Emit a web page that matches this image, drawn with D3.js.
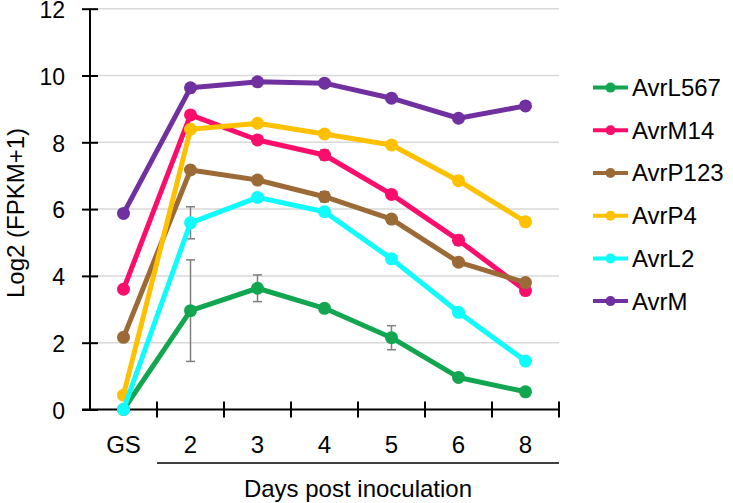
<!DOCTYPE html>
<html>
<head>
<meta charset="utf-8">
<script src="https://cdn.jsdelivr.net/npm/d3@7"></script>
<style>
  body { margin: 0; background: #fff; }
  text { font-family: "Liberation Sans", Arial, sans-serif; fill: #000; }
</style>
</head>
<body>
<svg id="chart" width="733" height="503"></svg>
<script>
// categories on the x axis
var days = ["GS", "2", "3", "4", "5", "6", "8"];

// series values (log2 FPKM+1)
var avrL567 = [0, 2.96, 3.63, 3.03, 2.15, 0.96, 0.53];
var avrM14  = [3.60, 8.82, 8.07, 7.62, 6.44, 5.07, 3.56];
var avrP123 = [2.16, 7.17, 6.87, 6.37, 5.70, 4.41, 3.80];
var avrP4   = [0.43, 8.39, 8.57, 8.25, 7.92, 6.85, 5.62];
var avrL2   = [0, 5.59, 6.35, 5.92, 4.51, 2.91, 1.45];
var avrM    = [5.87, 9.63, 9.81, 9.77, 9.32, 8.72, 9.09];

// error bars (+/-)
var errL567 = [0, 1.52, 0.40, 0, 0.36, 0, 0];
var errM14  = [0, 0, 0, 0.15, 0, 0.15, 0];
var errP123 = [0, 0.12, 0, 0.15, 0, 0, 0];
var errP4   = [0, 0, 0, 0, 0, 0.1, 0];
var errL2   = [0, 0.48, 0, 0, 0, 0.1, 0];
var errM    = [0, 0.1, 0, 0, 0, 0, 0.12];

var names  = ["AvrL567", "AvrM14", "AvrP123", "AvrP4", "AvrL2", "AvrM"];
var colors = ["#12a650", "#fb0e6b", "#9c6a37", "#ffc000", "#10fbfb", "#7030a0"];
var yTicks = [0, 2, 4, 6, 8, 10, 12];

var series = [
  {name: names[0], color: colors[0], v: avrL567, e: errL567},
  {name: names[1], color: colors[1], v: avrM14,  e: errM14},
  {name: names[2], color: colors[2], v: avrP123, e: errP123},
  {name: names[3], color: colors[3], v: avrP4,   e: errP4},
  {name: names[4], color: colors[4], v: avrL2,   e: errL2},
  {name: names[5], color: colors[5], v: avrM,    e: errM}
];

var svg = d3.select("#chart");

var x = d3.scaleBand().domain(days).range([90, 559]);
var y = d3.scaleLinear().domain([0, 12]).range([409.5, 8.7]);
var cx = function(d) { return x(d) + x.bandwidth() / 2; };

// grid lines
svg.append("g")
  .selectAll("line")
  .data(yTicks.slice(1))
  .enter().append("line")
  .attr("x1", 90).attr("x2", 559)
  .attr("y1", function(d) { return y(d); })
  .attr("y2", function(d) { return y(d); })
  .attr("stroke", "#d9d9d9")
  .attr("stroke-width", 1.5);

// y axis
var yAxis = svg.append("g")
  .attr("transform", "translate(90,0)")
  .call(d3.axisLeft(y).tickValues(yTicks).tickSize(8).tickPadding(17));
yAxis.select(".domain").remove();
yAxis.selectAll(".tick line").attr("x2", 8).attr("x1", -8).attr("stroke", "#000").attr("stroke-width", 2);
yAxis.selectAll(".tick text").style("font-size", "23px").attr("font-family", null).attr("y", 1.5);
yAxis.append("line").attr("x1", 0).attr("x2", 0).attr("y1", y(12)).attr("y2", y(0))
  .attr("stroke", "#000").attr("stroke-width", 2);

// x axis
var xg = svg.append("g");
xg.append("line").attr("x1", 82).attr("x2", 559).attr("y1", y(0)).attr("y2", y(0))
  .attr("stroke", "#000").attr("stroke-width", 2);
var bounds = days.map(function(d) { return x(d) + x.bandwidth(); });
xg.selectAll("line.tk")
  .data(bounds)
  .enter().append("line")
  .attr("class", "tk")
  .attr("x1", function(d) { return d; }).attr("x2", function(d) { return d; })
  .attr("y1", y(0) - 8).attr("y2", y(0) + 8)
  .attr("stroke", "#000").attr("stroke-width", 2);
xg.selectAll("text")
  .data(days)
  .enter().append("text")
  .attr("x", function(d) { return cx(d); })
  .attr("y", 453)
  .attr("text-anchor", "middle")
  .style("font-size", "24px")
  .text(function(d) { return d; });

// bracket under days
xg.append("line").attr("x1", x("2")).attr("x2", 559).attr("y1", 463).attr("y2", 463)
  .attr("stroke", "#000").attr("stroke-width", 1.5);
svg.append("text")
  .attr("x", (x("2") + 559) / 2)
  .attr("y", 497)
  .attr("text-anchor", "middle")
  .style("font-size", "24px")
  .text("Days post inoculation");

svg.append("text")
  .attr("transform", "translate(24,213) rotate(-90)")
  .attr("text-anchor", "middle")
  .style("font-size", "24px")
  .text("Log2 (FPKM+1)");

// series
var line = d3.line()
  .x(function(d, i) { return cx(days[i]); })
  .y(function(d) { return y(d); });

series.forEach(function(s) {
  var g = svg.append("g");
  var eb = g.selectAll("g.err")
    .data(s.v.map(function(v, i) { return {v: v, e: s.e[i], d: days[i]}; })
      .filter(function(p) { return p.e > 0; }))
    .enter().append("g").attr("class", "err");
  eb.append("line")
    .attr("x1", function(p) { return cx(p.d); }).attr("x2", function(p) { return cx(p.d); })
    .attr("y1", function(p) { return y(p.v - p.e); }).attr("y2", function(p) { return y(p.v + p.e); });
  eb.append("line")
    .attr("x1", function(p) { return cx(p.d) - 4.5; }).attr("x2", function(p) { return cx(p.d) + 4.5; })
    .attr("y1", function(p) { return y(p.v + p.e); }).attr("y2", function(p) { return y(p.v + p.e); });
  eb.append("line")
    .attr("x1", function(p) { return cx(p.d) - 4.5; }).attr("x2", function(p) { return cx(p.d) + 4.5; })
    .attr("y1", function(p) { return y(p.v - p.e); }).attr("y2", function(p) { return y(p.v - p.e); });
  eb.selectAll("line").attr("stroke", "#7f7f7f").attr("stroke-width", 1.5);

  g.append("path")
    .datum(s.v)
    .attr("d", line)
    .attr("fill", "none")
    .attr("stroke", s.color)
    .attr("stroke-width", 5)
    .attr("stroke-linejoin", "round");
  g.selectAll("circle")
    .data(s.v)
    .enter().append("circle")
    .attr("cx", function(d, i) { return cx(days[i]); })
    .attr("cy", function(d) { return y(d); })
    .attr("r", 6.5)
    .attr("fill", s.color);
});

// legend
var leg = svg.append("g")
  .selectAll("g")
  .data(series)
  .enter().append("g")
  .attr("transform", function(d, i) { return "translate(0," + (87.6 + i * 42.7) + ")"; });
leg.append("line").attr("x1", 593).attr("x2", 628)
  .attr("stroke", function(d) { return d.color; }).attr("stroke-width", 4);
leg.append("circle").attr("cx", 610.5).attr("r", 5)
  .attr("fill", function(d) { return d.color; });
leg.append("text").attr("x", 632).attr("dy", "0.35em")
  .style("font-size", "24px")
  .text(function(d) { return d.name; });
</script>
</body>
</html>
